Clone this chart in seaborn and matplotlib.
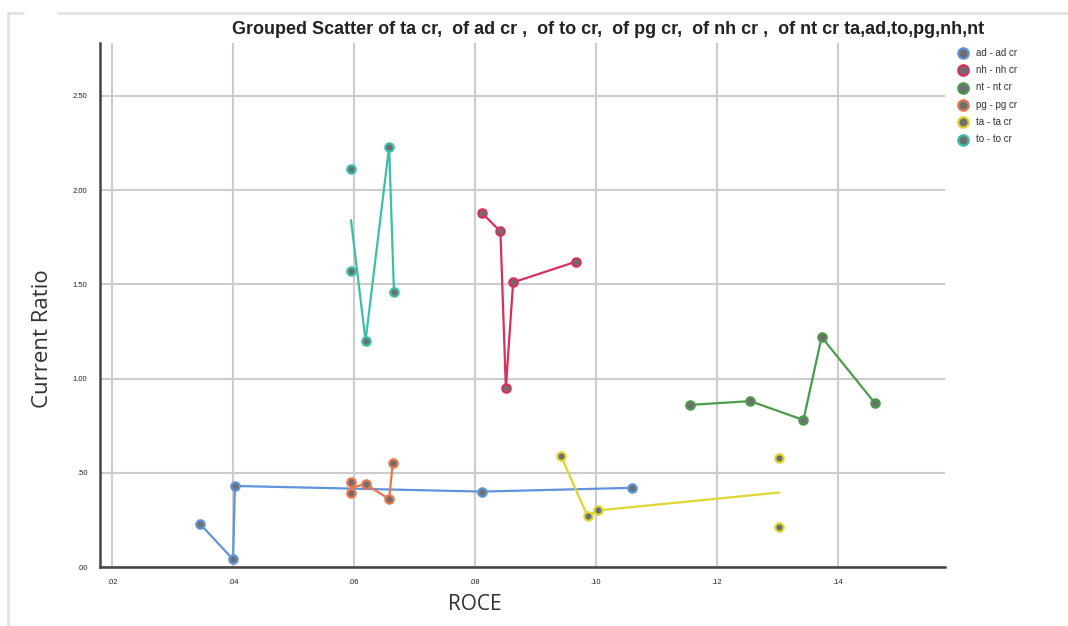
import numpy as np
import pandas as pd
import matplotlib.pyplot as plt
from matplotlib.lines import Line2D
import seaborn as sns

groups = ['ad', 'nh', 'nt', 'pg', 'ta', 'to']
roce_ad = [0.0345, 0.0400, 0.0403, 0.0812, 0.1060]
cr_ad = [0.23, 0.04, 0.43, 0.40, 0.42]
roce_nh = [0.0811, 0.0842, 0.0851, 0.0863, 0.0967]
cr_nh = [1.88, 1.78, 0.95, 1.51, 1.62]
roce_nt = [0.1155, 0.1255, 0.1343, 0.1373, 0.1461]
cr_nt = [0.86, 0.88, 0.78, 1.22, 0.87]
roce_pg = [0.0595, 0.0595, 0.0619, 0.0658, 0.0664]
cr_pg = [0.45, 0.39, 0.44, 0.36, 0.55]
roce_ta = [0.0942, 0.0986, 0.1003, 0.1303, 0.1303]
cr_ta = [0.59, 0.27, 0.30, 0.58, 0.21]
roce_to = [0.0595, 0.0595, 0.0619, 0.0658, 0.0666]
cr_to = [2.11, 1.57, 1.20, 2.23, 1.46]

x_ticks = [0.02, 0.04, 0.06, 0.08, 0.10, 0.12, 0.14]
x_ticklabels = ['.02', '.04', '.06', '.08', '.10', '.12', '.14']
y_ticks = [0.0, 0.5, 1.0, 1.5, 2.0, 2.5]
y_ticklabels = ['.00', '.50', '1.00', '1.50', '2.00', '2.50']

roce = {'ad': roce_ad, 'nh': roce_nh, 'nt': roce_nt, 'pg': roce_pg, 'ta': roce_ta, 'to': roce_to}
cr = {'ad': cr_ad, 'nh': cr_nh, 'nt': cr_nt, 'pg': cr_pg, 'ta': cr_ta, 'to': cr_to}
df = pd.concat([pd.DataFrame({'ROCE': roce[g], 'CR': cr[g], 'grp': g}) for g in groups],
               ignore_index=True)

colors = {'ad': '#5f93dc', 'nh': '#d92f5c', 'nt': '#4c9a4c',
          'pg': '#e8774c', 'ta': '#dfd530', 'to': '#3cbfa9'}

sns.set_style('white')
plt.rcParams['font.family'] = ['Liberation Sans', 'DejaVu Sans']

fig = plt.figure(figsize=(10.68, 6.26), dpi=100)
ax = fig.add_axes([100 / 1068, 59 / 626, 845 / 1068, 524 / 626])

# light frame of the original window
fig.add_artist(Line2D([8 / 1068, 23 / 1068], [1 - 13 / 626] * 2, color='#e2e2e2', lw=2))
fig.add_artist(Line2D([58 / 1068, 1.0], [1 - 13 / 626] * 2, color='#e2e2e2', lw=2))
fig.add_artist(Line2D([8 / 1068] * 2, [0, 1 - 13 / 626], color='#e2e2e2', lw=2))

# lines go through the mean at each x, like the original
sns.lineplot(data=df, x='ROCE', y='CR', hue='grp', palette=colors, errorbar=None,
             legend=False, linewidth=1.6, ax=ax, zorder=3)
for g in groups:
    sub = df[df.grp == g]
    sns.scatterplot(x=sub.ROCE, y=sub.CR, color='#6e6e6e', edgecolor=colors[g],
                    linewidth=1.6, s=36, ax=ax, zorder=4, label=g + ' - ' + g + ' cr')

ax.set_xlim(0.018, 0.1577)
ax.set_ylim(0, 2.78)
ax.set_xticks(x_ticks)
ax.set_xticklabels(x_ticklabels)
ax.set_yticks(y_ticks)
ax.set_yticklabels(y_ticklabels)
ax.tick_params(labelsize=5.5, length=0, pad=9, colors='#222222')
ax.grid(True, color='#cccccc', linewidth=1.5)
ax.set_axisbelow(True)
for s in ['top', 'right']:
    ax.spines[s].set_visible(False)
for s in ['left', 'bottom']:
    ax.spines[s].set_color('#444444')
    ax.spines[s].set_linewidth(1.8)

ax.set_xlabel('ROCE', fontsize=15, family='Open Sans', color='#333333', va='center')
ax.xaxis.set_label_coords((475 - 100) / 845, (567 - 605) / 524)
ax.set_ylabel('Current Ratio', fontsize=16, family='Open Sans', color='#333333', va='center')
ax.yaxis.set_label_coords((42 - 100) / 845, (567 - 339) / 524)

fig.text(232 / 1068, 1 - 30 / 626,
         'Grouped Scatter of ta cr,  of ad cr ,  of to cr,  of pg cr,  of nh cr ,  of nt cr ta,ad,to,pg,nh,nt',
         fontsize=13, fontweight='bold', va='center', ha='left', color='#222222')

leg = ax.legend(loc='upper left', bbox_to_anchor=(945 / 1068, 1 - 39 / 626),
                bbox_transform=fig.transFigure, frameon=False, fontsize=7,
                handletextpad=0.3, labelspacing=0.75, markerscale=1.25)
plt.setp(leg.get_texts(), color='#333333')

fig.savefig('out.png', dpi=100)
